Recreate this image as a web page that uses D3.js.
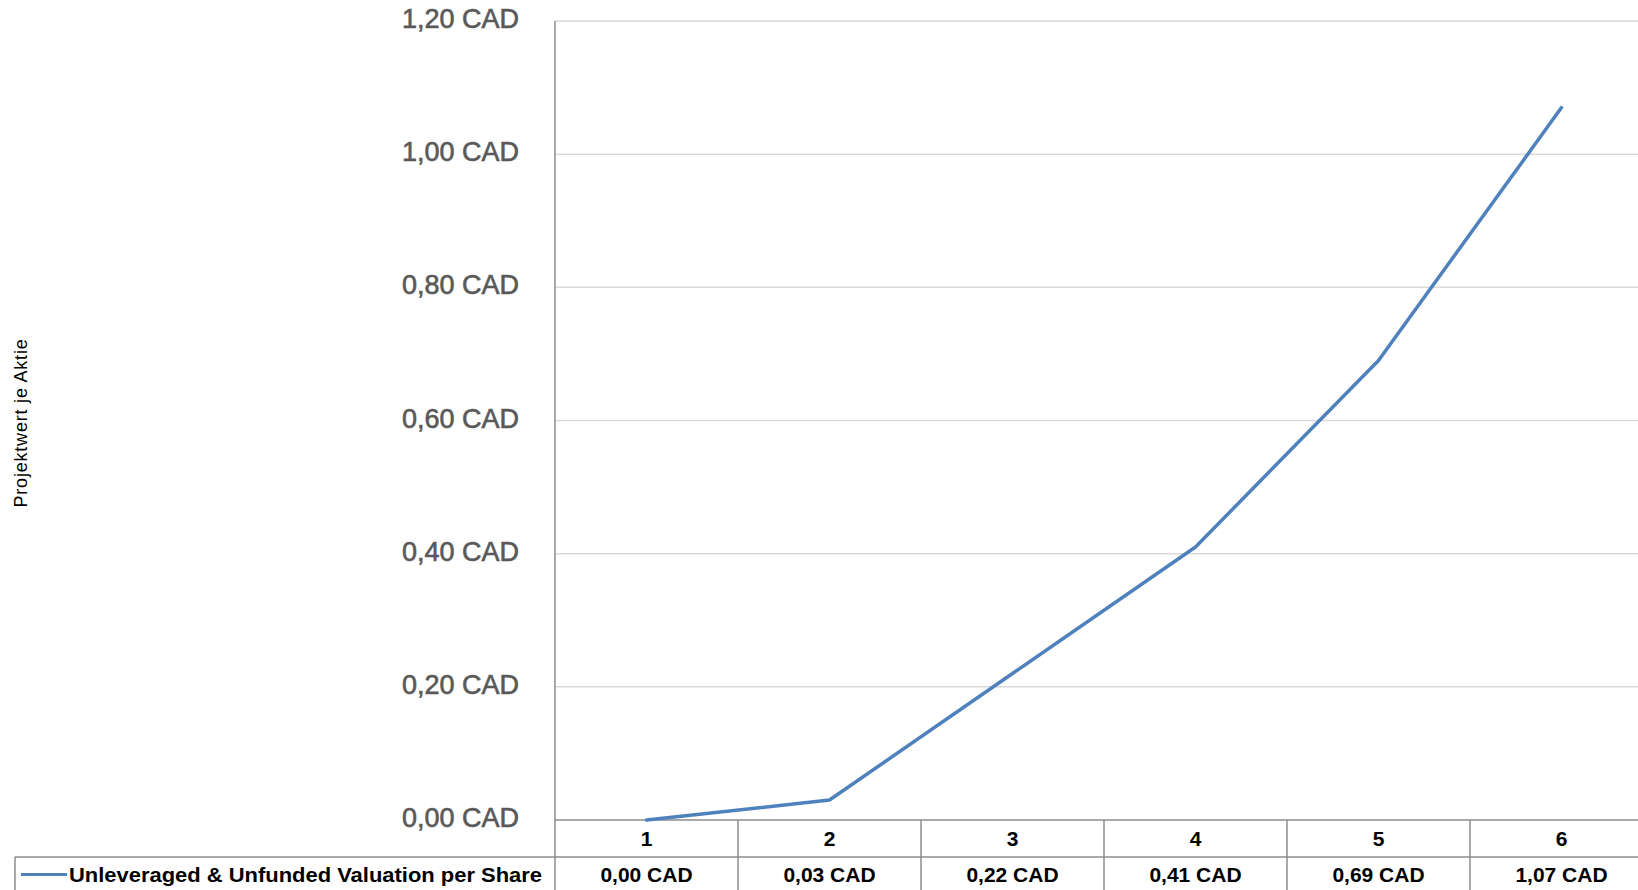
<!DOCTYPE html>
<html>
<head>
<meta charset="utf-8">
<script src="https://cdn.jsdelivr.net/npm/d3@7"></script>
<style>
  html, body { margin: 0; padding: 0; background: #fff; overflow: hidden; }
  svg { display: block; }
  .tick-label { font-family: "Liberation Sans", sans-serif; fill: #595959; stroke: #595959; stroke-width: 0.6px; }
  .tbl { font-family: "Liberation Sans", sans-serif; font-weight: bold; fill: #000; }
</style>
</head>
<body>
<svg id="chart" width="1638" height="890"></svg>
<script>
// Periods along the x axis and project value per share (CAD)
const categories = ["1", "2", "3", "4", "5", "6"];
const seriesName = "Unleveraged & Unfunded Valuation per Share";
const values = [0.00, 0.03, 0.22, 0.41, 0.69, 1.07];
const tickValues = [0, 0.2, 0.4, 0.6, 0.8, 1.0, 1.2];
const axisTitle = "Projektwert je Aktie";

const W = 1638, H = 890;
const plotLeft = 555, bandW = 183;
const plotTop = 21, plotBottom = 820;
const rowH = 37;

const svg = d3.select("#chart");

const deLocale = d3.formatLocale({ decimal: ",", thousands: ".", grouping: [3], currency: ["", " CAD"] });
const fmt = v => deLocale.format(".2f")(v) + " CAD";

const x = d3.scaleBand().domain(categories).range([plotLeft, plotLeft + bandW * categories.length]).padding(0);
const y = d3.scaleLinear().domain([0, 1.2]).range([plotBottom, plotTop]);

const gridColor = "#d9d9d9";
const axisColor = "#8c8c8c";

// horizontal gridlines
svg.append("g").selectAll("line").data(tickValues.filter(d => d > 0)).join("line")
  .attr("x1", plotLeft).attr("x2", x.range()[1])
  .attr("y1", d => y(d)).attr("y2", d => y(d))
  .attr("stroke", gridColor).attr("stroke-width", 1.5);

// y tick labels
svg.append("g").selectAll("text").data(tickValues).join("text")
  .attr("class", "tick-label")
  .attr("x", 519).attr("y", d => y(d) - 2)
  .attr("text-anchor", "end").attr("dominant-baseline", "central")
  .attr("font-size", 27)
  .text(d => fmt(d));

// axis title
svg.append("text")
  .attr("transform", `translate(27,${423}) rotate(-90)`)
  .attr("text-anchor", "middle")
  .attr("font-family", "Liberation Sans, sans-serif")
  .attr("font-size", 18)
  .attr("letter-spacing", 0.8)
  .attr("fill", "#000")
  .text(axisTitle);

// data table: header row with categories, data row with values
const tbl = svg.append("g");
const rowTop1 = plotBottom, rowTop2 = plotBottom + rowH;

// vertical axis line, continued through the table
tbl.append("line").attr("x1", plotLeft).attr("x2", plotLeft)
  .attr("y1", plotTop).attr("y2", H)
  .attr("stroke", axisColor).attr("stroke-width", 1.5);

// zero line / table top
tbl.append("line").attr("x1", plotLeft).attr("x2", x.range()[1])
  .attr("y1", y(0)).attr("y2", y(0))
  .attr("stroke", axisColor).attr("stroke-width", 1.5);

// band dividers
tbl.selectAll("line.div").data(categories).join("line").attr("class", "div")
  .attr("x1", d => x(d) + bandW).attr("x2", d => x(d) + bandW)
  .attr("y1", rowTop1).attr("y2", H)
  .attr("stroke", axisColor).attr("stroke-width", 1.5);

// data row top and left borders
tbl.append("line").attr("x1", 15).attr("x2", x.range()[1])
  .attr("y1", rowTop2).attr("y2", rowTop2)
  .attr("stroke", axisColor).attr("stroke-width", 1.5);
tbl.append("line").attr("x1", 15).attr("x2", 15)
  .attr("y1", rowTop2).attr("y2", H)
  .attr("stroke", axisColor).attr("stroke-width", 1.5);

tbl.selectAll("text.cat").data(categories).join("text").attr("class", "tbl cat")
  .attr("x", d => x(d) + x.bandwidth() / 2).attr("y", rowTop1 + rowH / 2)
  .attr("text-anchor", "middle").attr("dominant-baseline", "central")
  .attr("font-size", 21)
  .text(d => d);

tbl.selectAll("text.val").data(values).join("text").attr("class", "tbl val")
  .attr("x", (d, i) => x(categories[i]) + x.bandwidth() / 2).attr("y", rowTop2 + rowH / 2 - 1)
  .attr("text-anchor", "middle").attr("dominant-baseline", "central")
  .attr("font-size", 21)
  .text(d => fmt(d));

// legend key inside the table
tbl.append("line").attr("x1", 21).attr("x2", 67)
  .attr("y1", rowTop2 + rowH / 2 - 1).attr("y2", rowTop2 + rowH / 2 - 1)
  .attr("stroke", "#4f81bd").attr("stroke-width", 3);
tbl.append("text").attr("class", "tbl")
  .attr("x", 69).attr("y", rowTop2 + rowH / 2 - 1)
  .attr("dominant-baseline", "central")
  .attr("font-size", 21)
  .attr("textLength", 473).attr("lengthAdjust", "spacingAndGlyphs")
  .text(seriesName);

// series line
const line = d3.line()
  .x((d, i) => x(categories[i]) + x.bandwidth() / 2)
  .y(d => y(d));
svg.append("path").datum(values)
  .attr("d", line)
  .attr("fill", "none")
  .attr("stroke", "#4f81bd")
  .attr("stroke-width", 3.5)
  .attr("stroke-linejoin", "round")
  .attr("stroke-linecap", "round");
</script>
</body>
</html>
